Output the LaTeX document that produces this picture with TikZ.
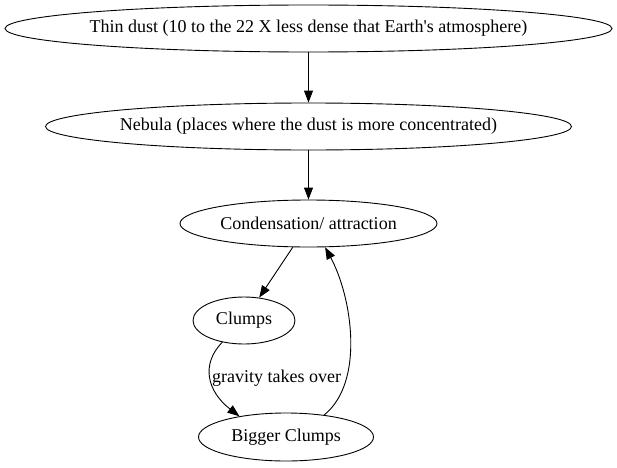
\documentclass[tikz,border=0pt]{standalone}
\usepackage{fontspec}
\setmainfont{Liberation Serif}[Ligatures=TeXOff]
\usetikzlibrary{shapes.geometric,arrows.meta}
\tikzset{
  ell/.style={ellipse, draw, line width=0.9pt, inner sep=0pt, font=\fontsize{18}{21}\selectfont},
  edge/.style={line width=0.9pt, -{Triangle[length=12pt,width=9pt]}},
}
\newcommand{\fixw}[1]{\makebox[0pt][c]{#1}}
\begin{document}
\begin{tikzpicture}[x=1pt,y=1pt]
\useasboundingbox (0,0) rectangle (617,467);
\node[ell, minimum width=607pt, minimum height=47pt] (A) at (308.5,438.5) {\fixw{Thin dust (10 to the 22 X less dense that Earth's atmosphere)}};
\node[ell, minimum width=526pt, minimum height=47pt] (B) at (308.5,340.5) {\fixw{Nebula (places where the dust is more concentrated)}};
\node[ell, minimum width=257pt, minimum height=47pt] (C) at (308.5,243.5) {\fixw{Condensation/ attraction}};
\node[ell, minimum width=102pt, minimum height=47pt] (D) at (244,146.5) {\fixw{Clumps}};
\node[ell, minimum width=175pt, minimum height=48pt] (E) at (286,30) {\fixw{Bigger Clumps}};
\draw[edge] (A) -- (B);
\draw[edge] (B) -- (C);
\draw[edge] (C) -- (D);
\draw[edge] (D.225) .. controls (200,102) and (208,75) .. node[right, inner sep=1pt, font=\fontsize{18}{21}\selectfont] (lbl) {gravity takes over} (E.156);
\draw[edge] (E.30) .. controls (365,85) and (352,170) .. (C.305);
\end{tikzpicture}
\end{document}
